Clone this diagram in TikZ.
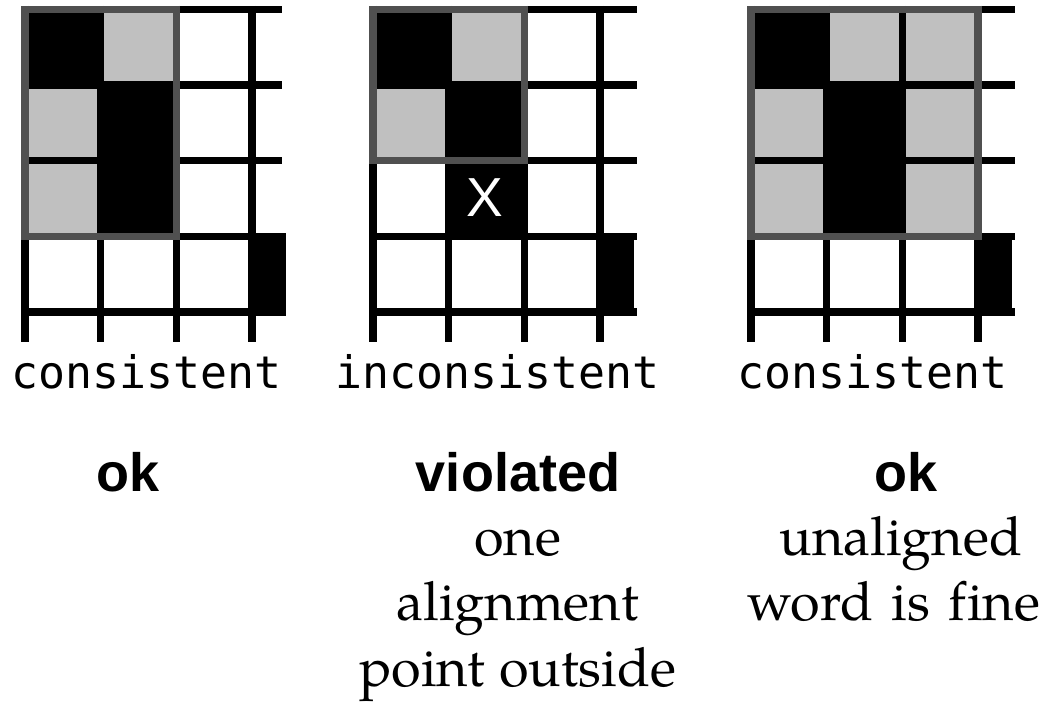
\documentclass[tikz,border=0pt]{standalone}
\usepackage{fontspec}
\newfontfamily\monofont{DejaVu Sans Mono}
\newfontfamily\boldsans{Liberation Sans}
\newfontfamily\palfont{TeX Gyre Pagella}[Ligatures=NoCommon]
\definecolor{cellgray}{HTML}{C0C0C0}
\definecolor{boxgray}{HTML}{505050}
\tikzset{
  gridline/.style={line width=7.5pt, draw=black},
  alignbox/.style={line width=7.5pt, draw=boxgray},
  monolabel/.style={anchor=base, inner sep=0pt, font=\monofont\fontsize{44.8}{50}\selectfont},
  verdict/.style={anchor=base, inner sep=0pt, font=\boldsans\bfseries\fontsize{54}{60}\selectfont},
  note/.style={anchor=base, inner sep=0pt, font=\palfont\fontsize{54}{65}\selectfont},
  markx/.style={inner sep=0pt, text=white, font=\boldsans\fontsize{55}{60}\selectfont},
}
\def\px{75.7}
\def\py{75.6}
\newcommand\acell[4]{\fill[#4] ({#1+#2*\px},{9.5+#3*\py}) rectangle ({#1+(#2+1)*\px},{9.5+(#3+1)*\py});}
\newcommand\agrid[2]{%
  \foreach \i in {0,...,3} {\draw[gridline] ({#1+\i*\px},5.75) -- ({#1+\i*\px},342);}
  \foreach \j in {0,...,4} {\draw[gridline] ({#1-3.75},{9.5+\j*\py}) -- ({#1+3*\px+#2},{9.5+\j*\py});}
  \fill[black] ({#1+3*\px-3.75},{9.5+3*\py-3.75}) rectangle ({#1+3*\px+34},{9.5+4*\py+3.75});
}
\newcommand\abox[3]{\draw[alignbox] (#1,9.5) rectangle ({#1+#2*\px},{9.5+#3*\py});}
\begin{document}
\begin{tikzpicture}[x=1pt,y=-1pt]
\useasboundingbox (0,0) rectangle (1053,704);
% ---- panel 1
\acell{25}{0}{0}{black}
\acell{25}{1}{0}{cellgray}
\acell{25}{0}{1}{cellgray}
\acell{25}{1}{1}{black}
\acell{25}{0}{2}{cellgray}
\acell{25}{1}{2}{black}
\agrid{25}{30}
\abox{25}{2}{3}
% ---- panel 2
\acell{373}{0}{0}{black}
\acell{373}{1}{0}{cellgray}
\acell{373}{0}{1}{cellgray}
\acell{373}{1}{1}{black}
\acell{373}{1}{2}{black}
\agrid{373}{37}
\abox{373}{2}{2}
\node[markx] (x) at (485,198) {X};
% ---- panel 3
\acell{751}{0}{0}{black}
\acell{751}{1}{0}{cellgray}
\acell{751}{2}{0}{cellgray}
\acell{751}{0}{1}{cellgray}
\acell{751}{1}{1}{black}
\acell{751}{2}{1}{cellgray}
\acell{751}{0}{2}{cellgray}
\acell{751}{1}{2}{black}
\acell{751}{2}{2}{cellgray}
\agrid{751}{37}
\abox{751}{3}{3}
% ---- labels
\node[monolabel] (c1) at (146.5,388) {consistent};
\node[monolabel] (c2) at (497.5,388) {inconsistent};
\node[monolabel] (c3) at (872.5,388) {consistent};
\node[verdict] (v1) at (128,491) {ok};
\node[verdict] (v2) at (518,491) {violated};
\node[verdict] (v3) at (906,491) {ok};
\node[note] (n1) at (517.5,555) {one};
\node[note] (n2) at (517.5,620) {alignment};
\node[note] (n3) at (517.5,686) {point outside};
\node[note] (n4) at (901,555) {unaligned};
\node[note] (n5) at (894,620) {\spaceskip=0.34em word is fine};
\end{tikzpicture}
\end{document}
